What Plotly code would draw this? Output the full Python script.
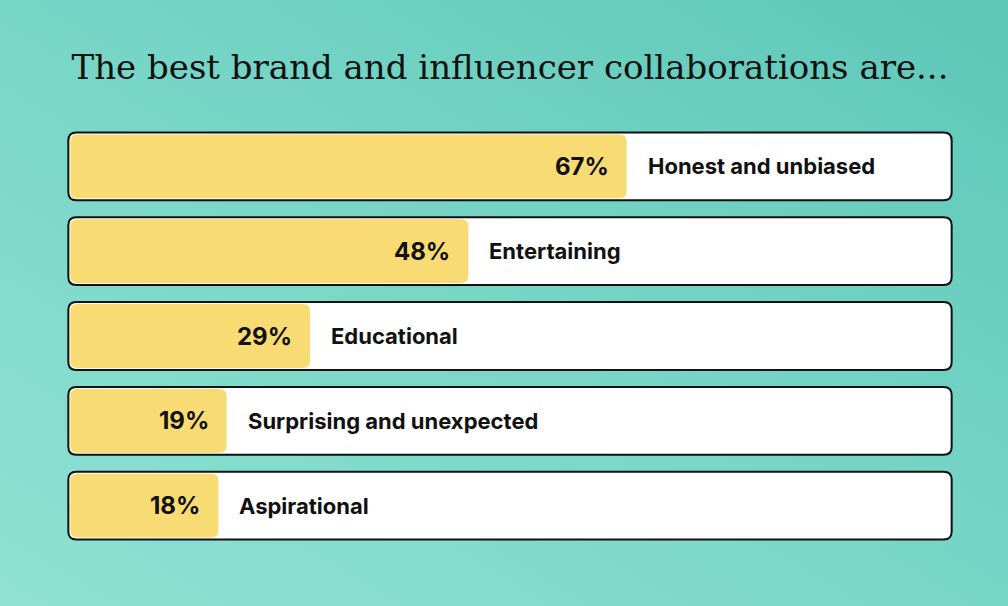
import base64
import plotly.graph_objects as go

categories = ["Honest and unbiased", "Entertaining", "Educational",
              "Surprising and unexpected", "Aspirational"]
values = [67, 48, 29, 19, 18]
pct_labels = [f"{v}%" for v in values]
title = "The best brand and influencer collaborations are..."

W, H = 1008, 606
ML, MR, MT, MB = 60, 48, 124, 58
PW, PH = W - ML - MR, H - MT - MB
XMIN, XMAX = -1, 107
BOX_END = 106
PX_X = PW / (XMAX - XMIN)
PX_Y = PH / len(categories)


def rounded_rect(x0, x1, y0, y1, r):
    rx, ry = r / PX_X, r / PX_Y
    return (f"M {x0 + rx},{y0} L {x1 - rx},{y0} Q {x1},{y0} {x1},{y0 + ry} "
            f"L {x1},{y1 - ry} Q {x1},{y1} {x1 - rx},{y1} "
            f"L {x0 + rx},{y1} Q {x0},{y1} {x0},{y1 - ry} "
            f"L {x0},{y0 + ry} Q {x0},{y0} {x0 + rx},{y0} Z")


# gradient background as an svg image
svg = ('<svg xmlns="http://www.w3.org/2000/svg" width="1008" height="606" '
       'preserveAspectRatio="none"><defs><linearGradient id="g" x1="0" y1="1" x2="1" y2="0">'
       '<stop offset="0" stop-color="#8fe2d2"/><stop offset="0.5" stop-color="#78d6c7"/>'
       '<stop offset="1" stop-color="#5ec7b8"/></linearGradient></defs>'
       '<rect width="1008" height="606" fill="url(#g)"/></svg>')
bg_uri = "data:image/svg+xml;base64," + base64.b64encode(svg.encode()).decode()

fig = go.Figure()
fig.add_trace(go.Scatter(x=values, y=list(range(len(values))), mode="markers",
                         marker=dict(opacity=0), hovertext=categories,
                         hoverinfo="text+x", showlegend=False))

shapes = []
annotations = []
half = 0.4
inset_y = 2 / PX_Y
inset_x = 2 / PX_X
for i, (cat, v, lab) in enumerate(zip(categories, values, pct_labels)):
    shapes.append(dict(type="path", xref="x", yref="y", layer="below",
                       path=rounded_rect(0, BOX_END, i - half, i + half, 8),
                       fillcolor="white", line=dict(width=0)))
    shapes.append(dict(type="path", xref="x", yref="y", layer="below",
                       path=rounded_rect(inset_x, v, i - half + inset_y, i + half - inset_y, 7),
                       fillcolor="#f8db72", line=dict(width=0)))
    shapes.append(dict(type="path", xref="x", yref="y", layer="above",
                       path=rounded_rect(0, BOX_END, i - half, i + half, 8),
                       fillcolor="rgba(0,0,0,0)", line=dict(color="#111111", width=2)))
    annotations.append(dict(x=v, y=i, xref="x", yref="y", text=f"<b>{lab}</b>",
                            xanchor="right", yanchor="middle", xshift=-16, showarrow=False,
                            font=dict(family="Inter", size=24, color="#111111")))
    annotations.append(dict(x=v, y=i, xref="x", yref="y", text=f"<b>{cat}</b>",
                            xanchor="left", yanchor="middle", xshift=19, showarrow=False,
                            font=dict(family="Inter", size=22, color="#111111")))

fig.update_layout(
    width=W, height=H,
    margin=dict(l=ML, r=MR, t=MT, b=MB),
    paper_bgcolor="#78d6c7", plot_bgcolor="rgba(0,0,0,0)",
    title=dict(text=title, x=0.5, xref="paper", xanchor="center",
               y=1 - 67 / H, yref="container", yanchor="middle",
               font=dict(family="DejaVu Serif", size=34, color="#111111")),
    xaxis=dict(range=[XMIN, XMAX], visible=False, fixedrange=True),
    yaxis=dict(range=[len(categories) - 0.5, -0.5], visible=False, fixedrange=True),
    shapes=shapes, annotations=annotations,
    images=[dict(source=bg_uri, xref="paper", yref="paper",
                 x=-ML / PW, y=1 + MT / PH, sizex=W / PW, sizey=H / PH,
                 xanchor="left", yanchor="top", sizing="stretch", layer="below")],
    showlegend=False,
)

fig.write_html("out.html", config={"displayModeBar": False},
               post_script="document.body.style.margin='0';")
